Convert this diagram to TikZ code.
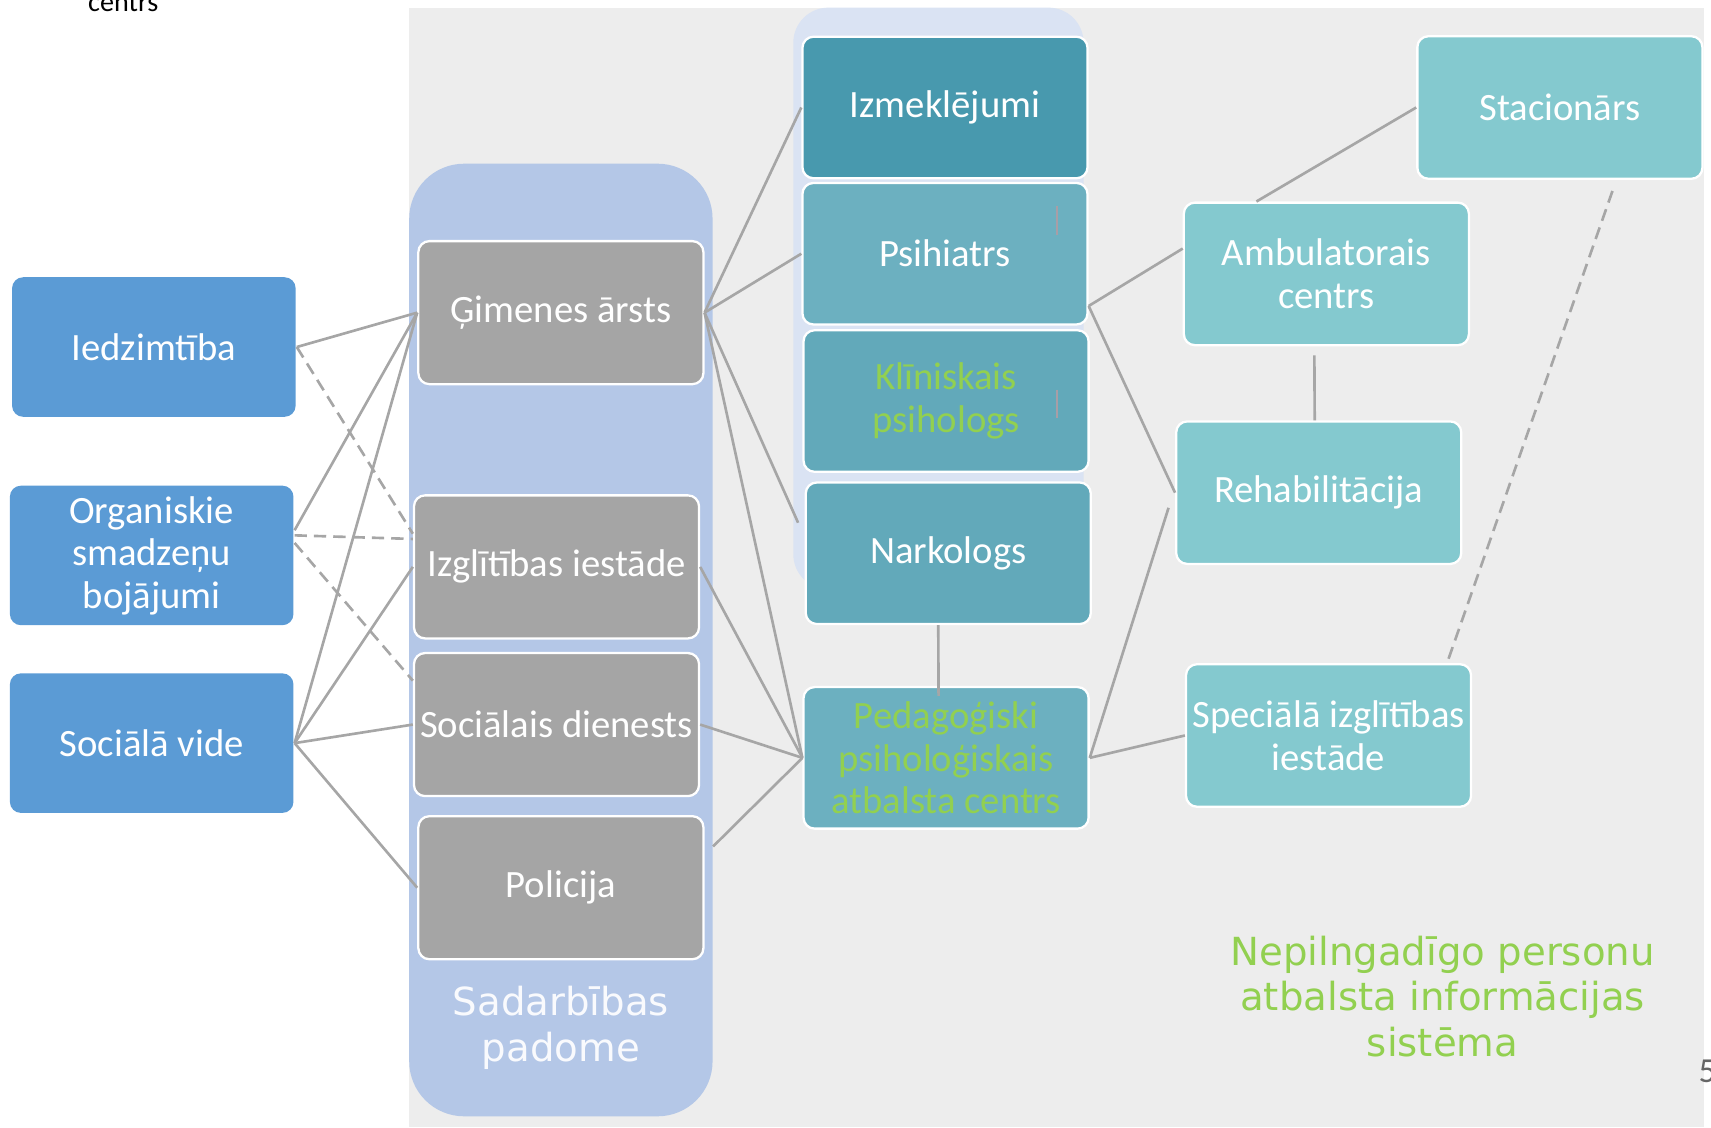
\documentclass[tikz,border=0pt]{standalone}
\usepackage{fontspec}
\setmainfont{Carlito}
\newfontfamily\verdanaFont{DejaVu Sans}

\definecolor{slideGray}{HTML}{EDEDED}
\definecolor{councilBlue}{HTML}{B4C7E7}
\definecolor{medicBlue}{HTML}{DAE3F3}
\definecolor{causeBlue}{HTML}{5B9BD5}
\definecolor{partnerGray}{HTML}{A5A5A5}
\definecolor{tealDark}{HTML}{4899AE}
\definecolor{tealMid}{HTML}{6CB0C0}
\definecolor{tealDeep}{HTML}{62A9BA}
\definecolor{tealLight}{HTML}{84C9CF}
\definecolor{linkGray}{HTML}{A6A6A6}
\definecolor{tickGray}{HTML}{A89EA6}
\definecolor{titleGreen}{HTML}{92D050}

\begin{document}
\begin{tikzpicture}[x=0.02182cm, y=-0.02182cm,
    boxStyle/.style={rectangle, rounded corners=0.22cm, draw=white, line width=1.3pt, text=white,
        align=center, inner sep=0pt, minimum width=5.7cm, minimum height=2.83cm,
        font=\fontsize{22}{24.2}\selectfont},
    causeStyle/.style={boxStyle, fill=causeBlue, draw=none, minimum width=5.67cm, minimum height=2.79cm},
    partnerStyle/.style={boxStyle, fill=partnerGray, minimum height=2.86cm},
    medicStyle/.style={boxStyle, fill=#1},
    serviceStyle/.style={boxStyle, fill=tealLight, minimum height=2.85cm},
    linkStyle/.style={draw=linkGray, line width=1.5pt},
    dashStyle/.style={linkStyle, dash pattern=on 7pt off 4pt}]

    \useasboundingbox (0,0) rectangle (1568,1033);
    \fill[slideGray] (375,7) rectangle (1562,1033);
    \node[anchor=base, font=\fontsize{16}{19}\selectfont] (top) at (113,10.7) {centrs};
    \node[anchor=base west, text=black!60, font=\fontsize{20}{24}\selectfont] (page) at (1551,992) {5};

    % groups
    \fill[councilBlue, rounded corners=1.1cm] (375,150) rectangle (653,1023);
    \fill[medicBlue, rounded corners=0.7cm] (727,7) rectangle (993,540);
    \node[text=white!92!councilBlue, align=center, font=\verdanaFont\fontsize{22}{26}\selectfont] (council) at (514,942) {Sadarbības\\padome};
    \node[text=titleGreen, align=center, font=\verdanaFont\fontsize{22}{26}\selectfont] (title) at (1322,913) {Nepilngadīgo personu\\atbalsta informācijas\\sistēma};

    % causes
    \node[causeStyle] (ied) at (141,318) {Iedzimtība};
    \node[causeStyle] (org) at (139,509) {Organiskie\\smadzeņu\\bojājumi};
    \node[causeStyle] (soc) at (139,681) {Sociālā vide};

    % council members
    \node[partnerStyle] (gim) at (514,286.5) {Ģimenes ārsts};
    \node[partnerStyle] (izg) at (510,519.5) {Izglītības iestāde};
    \node[partnerStyle] (sd) at (510,664) {Sociālais dienests};
    \node[partnerStyle] (pol) at (514,813.5) {Policija};

    % medical
    \node[medicStyle=tealDark] (izm) at (866,98.5) {Izmeklējumi};
    \node[medicStyle=tealMid] (psi) at (866,232.5) {Psihiatrs};
    \node[medicStyle=tealDeep, text=titleGreen] (kli) at (867,367.5) {Klīniskais\\psihologs};
    \node[medicStyle=tealDeep] (nar) at (869,507) {Narkologs};
    \node[medicStyle=tealMid, text=titleGreen] (ppc) at (867,694.5) {Pedagoģiski\\psiholoģiskais\\atbalsta centrs};
    \draw[draw=tickGray, line width=0.8pt] (968.5,189) -- (968.5,215);
    \draw[draw=tickGray, line width=0.8pt] (968.5,357) -- (968.5,383);

    % services
    \node[serviceStyle] (sta) at (1429.5,98.5) {Stacionārs};
    \node[serviceStyle] (amb) at (1215.5,251) {Ambulatorais\\centrs};
    \node[serviceStyle] (reh) at (1208.5,451.5) {Rehabilitācija};
    \node[serviceStyle] (spe) at (1217.5,674) {Speciālā izglītības\\iestāde};

    \draw[linkStyle] (ied.east) -- (gim.west);
    \draw[linkStyle] (org.10) -- (gim.west);
    \draw[linkStyle] (soc.east) -- (gim.west);
    \draw[linkStyle] (soc.east) -- (izg.west);
    \draw[linkStyle] (soc.east) -- (sd.west);
    \draw[linkStyle] (soc.east) -- (pol.west);
    \draw[dashStyle] (ied.east) -- (izg.167);
    \draw[dashStyle] (org.8) -- (izg.169);
    \draw[dashStyle] (org.5) -- (sd.163);

    \draw[linkStyle] (gim.east) -- (izm.west);
    \draw[linkStyle] (gim.east) -- (psi.west);
    \draw[linkStyle] (gim.east) -- ([xshift=-0.13cm]nar.168);
    \draw[linkStyle] (gim.east) -- (ppc.west);
    \draw[linkStyle] (izg.east) -- (ppc.west);
    \draw[linkStyle] (sd.east) -- (ppc.west);
    \draw[linkStyle] ([xshift=0.17cm]pol.16) -- (ppc.west);
    \draw[linkStyle] ([xshift=-0.2cm]nar.south) -- ([xshift=-0.15cm, yshift=-0.2cm]ppc.north);

    \draw[linkStyle] (psi.-20) -- (amb.170);
    \draw[linkStyle] (psi.-20) -- (reh.west);
    \draw[linkStyle] (ppc.east) -- ([xshift=-0.13cm]reh.186);
    \draw[linkStyle] (ppc.east) -- (spe.west);
    \draw[linkStyle] (amb.134) -- (sta.west);
    \draw[linkStyle] ([xshift=-0.24cm, yshift=-0.18cm]amb.south) -- ([xshift=-0.08cm]reh.north);
    \draw[dashStyle] ([shift={(110,-4)}]spe.north) -- ([shift={(50,5)}]sta.south);
\end{tikzpicture}
\end{document}
